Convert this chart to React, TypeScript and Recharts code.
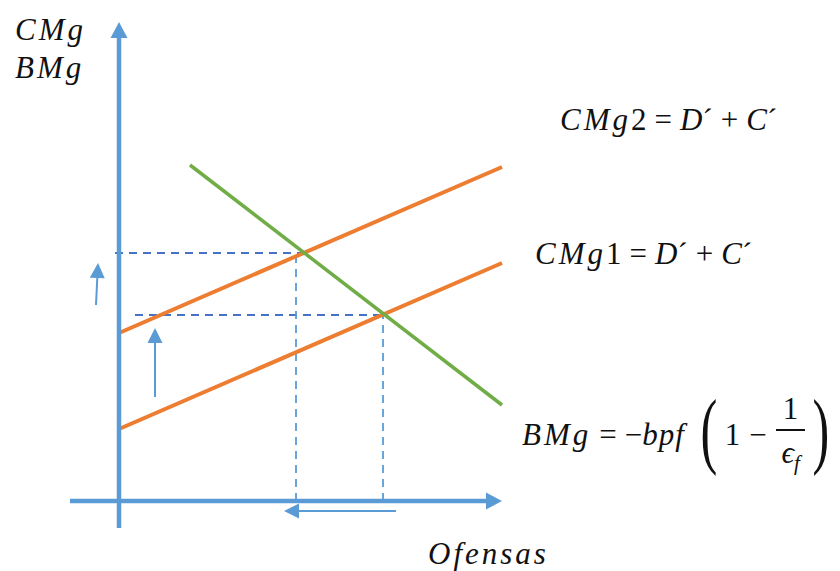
import { ComposedChart, ReferenceLine, XAxis, YAxis } from 'recharts'

// units: origin at the crossing of the axes
const xDomain = [-11.9, 72.1]
const yDomain = [-7, 50.1]

const yAxisLine = { x: [0, 0], y: [-2.7, 47.9] }
const xAxisLine = { x: [-4.9, 38.3], y: [0, 0] }

const cmg1X = [0, 38.3]
const cmg1Y = [7.2, 23.8]
const cmg2X = [0, 38.3]
const cmg2Y = [16.8, 33.4]
const bmgX = [7.1, 38.3]
const bmgY = [33.6, 9.6]

// guides to the two equilibria
const guideHigh = { hx: [-0.4, 18.5], hy: 24.8, vx: 17.7, vy: [0, 24.3] }
const guideLow = { hx: [1.6, 26.4], hy: 18.6, vx: 26.4, vy: [0, 18.6] }

// shift arrows
const shiftArrows = [
  { x: [-2.3, -2.1], y: [19.6, 23.8] },
  { x: [3.6, 3.6], y: [10.4, 17.3] },
  { x: [27.7, 16.5], y: [-1.0, -1.0] },
]

const BLUE = '#5B9BD5'
const DARK_BLUE = '#4472C4'
const ORANGE = '#ED7D31'
const GREEN = '#70AD47'

const mathFont = '"Liberation Serif", "DejaVu Serif", serif'

function arrowShape(color: string, width: number, head: number, half: number) {
  return (p: any) => {
    const { x1, y1, x2, y2 } = p
    const dx = x2 - x1
    const dy = y2 - y1
    const len = Math.sqrt(dx * dx + dy * dy) || 1
    const ux = dx / len
    const uy = dy / len
    const bx = x2 - ux * head
    const by = y2 - uy * head
    const pts = `${x2},${y2} ${bx - uy * half},${by + ux * half} ${bx + uy * half},${by - ux * half}`
    return (
      <g>
        <line x1={x1} y1={y1} x2={bx} y2={by} stroke={color} strokeWidth={width} />
        <polygon points={pts} fill={color} />
      </g>
    )
  }
}

function seg(xs: number[], ys: number[]) {
  return [
    { x: xs[0], y: ys[0] },
    { x: xs[1], y: ys[1] },
  ] as any
}

const labelStyle: React.CSSProperties = {
  position: 'absolute',
  fontFamily: mathFont,
  fontStyle: 'italic',
  fontSize: 31,
  color: '#111',
  whiteSpace: 'nowrap',
  lineHeight: 1,
  display: 'flex',
  alignItems: 'center',
}

const v: React.CSSProperties = { letterSpacing: 3 }
const up: React.CSSProperties = { fontStyle: 'normal' }
const op: React.CSSProperties = { fontStyle: 'normal', margin: '0 8px' }
const paren: React.CSSProperties = {
  fontStyle: 'normal',
  fontSize: 84,
  fontWeight: 200,
  display: 'inline-block',
  transform: 'scaleX(0.6)',
  marginTop: -8,
}

function CostLabel({ n, left, top }: { n: string; left: number; top: number }) {
  return (
    <div style={{ ...labelStyle, left, top }}>
      <span style={v}>CMg</span>
      <span style={up}>{n}</span>
      <span style={op}>=</span>
      <span>D</span>
      <span style={up}>´</span>
      <span style={op}>+</span>
      <span>C</span>
      <span style={up}>´</span>
    </div>
  )
}

export default function App() {
  return (
    <div style={{ position: 'absolute', left: 0, top: 0, width: 840, height: 571, background: '#fff' }}>
      <ComposedChart width={840} height={571} margin={{ top: 0, right: 0, bottom: 0, left: 0 }}>
        <XAxis type="number" dataKey="x" domain={xDomain} hide allowDataOverflow />
        <YAxis type="number" dataKey="y" domain={yDomain} hide allowDataOverflow />

        <ReferenceLine segment={seg([guideHigh.hx[0], guideHigh.hx[1]], [guideHigh.hy, guideHigh.hy])} stroke={DARK_BLUE} strokeWidth={1.8} strokeDasharray="8 6" />
        <ReferenceLine segment={seg([guideLow.hx[0], guideLow.hx[1]], [guideLow.hy, guideLow.hy])} stroke={DARK_BLUE} strokeWidth={1.8} strokeDasharray="8 6" />
        <ReferenceLine segment={seg([guideHigh.vx, guideHigh.vx], guideHigh.vy)} stroke={BLUE} strokeWidth={1.8} strokeDasharray="8 6" />
        <ReferenceLine segment={seg([guideLow.vx, guideLow.vx], guideLow.vy)} stroke={BLUE} strokeWidth={1.8} strokeDasharray="8 6" />

        <ReferenceLine segment={seg(cmg1X, cmg1Y)} stroke={ORANGE} strokeWidth={4} />
        <ReferenceLine segment={seg(cmg2X, cmg2Y)} stroke={ORANGE} strokeWidth={4} />
        <ReferenceLine segment={seg(bmgX, bmgY)} stroke={GREEN} strokeWidth={3.5} />

        <ReferenceLine segment={seg(yAxisLine.x, yAxisLine.y)} shape={arrowShape(BLUE, 4.5, 16, 8.5)} />
        <ReferenceLine segment={seg(xAxisLine.x, xAxisLine.y)} shape={arrowShape(BLUE, 4.5, 16, 8.5)} />

        {shiftArrows.map((a, i) => (
          <ReferenceLine key={i} segment={seg(a.x, a.y)} shape={arrowShape(BLUE, 2, 15, 7.5)} />
        ))}
      </ComposedChart>

      <div style={{ ...labelStyle, ...v, left: 15, top: 14 }}>CMg</div>
      <div style={{ ...labelStyle, ...v, left: 15, top: 52 }}>BMg</div>
      <CostLabel n="2" left={560} top={104} />
      <CostLabel n="1" left={535} top={238} />
      <div style={{ ...labelStyle, left: 522, top: 388, height: 92 }}>
        <span style={v}>BMg</span>
        <span style={op}>=</span>
        <span style={up}>−</span>
        <span style={{ letterSpacing: 1 }}>bpf</span>
        <span style={{ ...paren, marginLeft: 10 }}>(</span>
        <span style={{ ...up, marginLeft: 2 }}>1</span>
        <span style={{ ...op, margin: '0 9px' }}>−</span>
        <span style={{ display: 'inline-flex', flexDirection: 'column', alignItems: 'center' }}>
          <span style={{ ...up, borderBottom: '2.5px solid #111', padding: '0 7px 5px' }}>1</span>
          <span style={{ paddingTop: 6 }}>
            ϵ<sub style={{ fontSize: 21 }}>f</sub>
          </span>
        </span>
        <span style={{ ...paren, marginLeft: 2 }}>)</span>
      </div>
      <div style={{ ...labelStyle, ...v, left: 428, top: 538 }}>Ofensas</div>
    </div>
  )
}
